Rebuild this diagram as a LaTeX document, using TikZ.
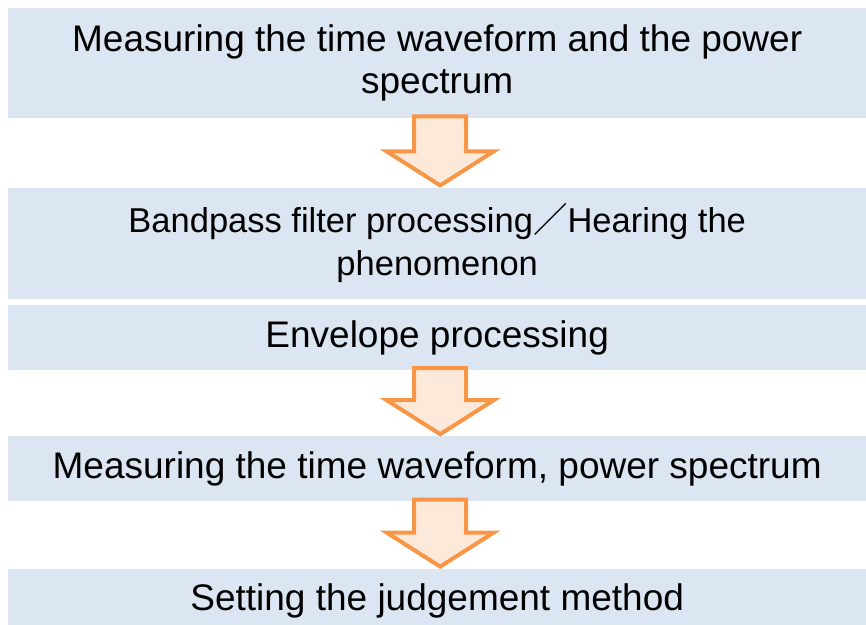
\documentclass[tikz,border=0pt]{standalone}
\usepackage{fontspec}
\setmainfont{Liberation Sans}
\newfontfamily\cjk{Noto Sans CJK JP}
\usetikzlibrary{positioning}
\usetikzlibrary{calc}
\definecolor{boxblue}{HTML}{DCE6F2}
\definecolor{arroworange}{HTML}{F79646}
\definecolor{arrowfill}{HTML}{FDE9D9}
\tikzset{
  stagebox/.style={fill=boxblue,minimum width=858pt,inner sep=0pt,align=center,font=\fontsize{37}{42}\selectfont},
  downarrow/.style={draw=arroworange,fill=arrowfill,line width=4pt,miter limit=10}
}

\begin{document}
\begin{tikzpicture}[x=1pt,y=-1pt]
                    \useasboundingbox (0,0) rectangle (866,624);
                    \draw (8,8) node[stagebox,anchor=north west,minimum height=110pt,name=B1] {Measuring the time waveform and the power\\spectrum};
                    \node[stagebox,minimum height=111pt,below=69pt of B1,font=\fontsize{34.5}{43}\selectfont] (B2) {Bandpass filter processing{\cjk ／}Hearing the\\phenomenon};
                    \node[stagebox,minimum height=65pt,below=6pt of B2] (B3) {Envelope processing};
                    \node[stagebox,minimum height=65pt,below=66pt of B3] (B4) {Measuring the time waveform, power spectrum};
                    \node[stagebox,minimum height=65pt,below=67pt of B4] (B5) {Setting the judgement method};
                    \foreach \a/\b in {B1/B2,B3/B4,B4/B5}
                        \draw[downarrow] ($(\a.south)+(-23,-2)$) -- ($(\a.south)+(29,-2)$) -- ($(\b.north)+(29,-36)$) -- ($(\b.north)+(56.5,-36)$) -- ($(\b.north)+(3,-2)$) -- ($(\b.north)+(-50.5,-36)$) -- ($(\b.north)+(-23,-36)$) -- cycle;
                \end{tikzpicture}
\end{document}
